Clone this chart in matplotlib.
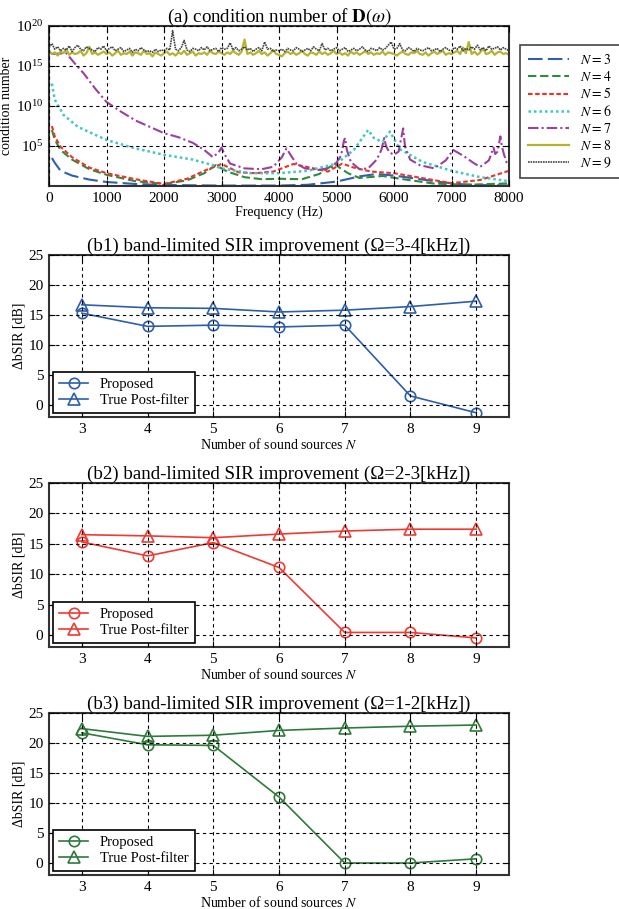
import numpy as np
import matplotlib
matplotlib.use('Agg')
import matplotlib.pyplot as plt
from matplotlib.ticker import LogFormatterMathtext, FixedLocator

plt.rcParams['font.family'] = ['Liberation Serif', 'DejaVu Serif']
plt.rcParams['mathtext.fontset'] = 'stix'

# ---------- (a) condition number, log10 values ----------
f3 = [50, 100, 200, 400, 700, 1000, 1500, 2000, 3000, 4000, 4500, 5000, 5400, 5700, 6000, 6400, 6800, 7200, 7600, 8000]
c3 = [3.5, 2.9, 1.9, 1.3, 0.8, 0.5, 0.25, 0.12, 0.05, 0.05, 0.15, 0.55, 1.2, 1.5, 1.3, 0.9, 0.5, 0.2, 0.1, 0.05]

f4 = [50, 100, 200, 400, 700, 1000, 1500, 2000, 2400, 2700, 2900, 3100, 3400, 3700, 4000, 4400, 4700, 4970, 5050,
      5200, 5400, 5800, 6200, 6700, 7300, 8000]
c4 = [7.0, 5.8, 4.5, 3.3, 2.1, 1.4, 0.6, 0.25, 0.7, 1.6, 2.6, 1.8, 1.1, 0.85, 0.9, 0.85, 1.5, 2.8, 2.3,
      1.6, 1.0, 1.25, 0.8, 0.3, 0.15, 0.33]

f5 = [50, 100, 200, 400, 700, 1000, 1500, 2000, 2400, 2700, 3000, 3300, 3600, 3900, 4250, 4600, 4850, 5100, 5300,
      5600, 6000, 6400, 7000, 7500, 8000]
c5 = [7.5, 6.2, 4.9, 3.6, 2.3, 1.6, 0.85, 0.25, 0.9, 1.9, 2.75, 1.7, 1.6, 1.8, 2.75, 2.2, 1.8, 2.8, 2.3,
      1.8, 1.6, 1.1, 0.35, 0.75, 1.9]

f6 = [50, 100, 250, 500, 1000, 1500, 2000, 2500, 2850, 3000, 3500, 4000, 4500, 5000, 5300, 5450, 5550, 5650, 5800,
      5930, 6100, 6500, 7000, 7500, 8000]
c6 = [12.8, 10.8, 8.9, 7.4, 5.75, 4.7, 3.9, 3.3, 2.6, 2.2, 1.6, 1.6, 1.9, 2.8, 4.5, 6.0, 7.0, 6.0, 5.5,
      6.8, 4.6, 3.0, 1.9, 1.1, 0.6]

f7 = [50, 300, 450, 600, 800, 1000, 1250, 1500, 1750, 2000, 2250, 2500, 2700, 2850, 2950, 3000, 3050, 3150, 3400,
      3700, 3900, 4050, 4130, 4200, 4300, 4450, 4700, 4950, 5080, 5130, 5150, 5180, 5250, 5400, 5550, 5700, 5780,
      5830, 5860, 5920, 6000, 6080, 6140, 6160, 6190, 6280, 6450, 6700, 6900, 7030, 7200, 7400, 7500, 7650, 7730,
      7760, 7800, 7850, 7875, 7910, 7960, 8000]
c7 = [16.5, 16.6, 15.3, 14.1, 12.2, 10.5, 9.3, 8.2, 7.4, 6.6, 6.1, 5.4, 4.5, 3.6, 4.2, 4.8, 4.0, 2.8, 2.2,
      2.1, 2.4, 3.6, 4.7, 3.9, 2.8, 2.2, 2.0, 2.4, 3.8, 5.7, 6.0, 4.5, 3.0, 2.1, 2.2, 3.3, 4.5,
      6.0, 5.0, 4.2, 3.9, 4.3, 6.5, 7.2, 5.0, 3.3, 2.6, 2.2, 3.2, 4.5, 3.8, 2.8, 2.4, 3.2, 4.8,
      4.0, 4.3, 6.2, 5.0, 4.0, 2.9, 2.5]

# N = 8 and N = 9, every 50 Hz from 0 to 8000
c8 = [16.9, 16.5, 16.7, 16.3, 16.8, 16.6, 17.1, 16.4, 16.7, 16.5, 16.6, 16.9, 16.3, 16.6, 17.4, 16.5, 16.7, 16.4, 16.6, 16.8, 16.5,
      16.7, 16.3, 16.6, 16.9, 16.4, 16.6, 16.5, 16.8, 16.3, 16.7, 16.6, 16.4, 16.9, 16.5, 16.6, 16.2, 16.7, 16.5, 16.3, 16.6,
      16.8, 16.4, 16.6, 16.3, 16.7, 16.5, 16.9, 16.4, 16.6, 16.8, 16.3, 16.6, 16.5, 16.7, 16.4, 16.9, 16.6, 16.5, 16.8, 16.6,
      16.4, 16.7, 16.5, 16.9, 16.6, 16.4, 16.8, 18.3, 16.5, 16.7, 16.4, 16.6, 16.9, 16.5, 16.7, 16.3, 16.6, 17.0, 16.5, 16.4,
      16.2, 16.6, 16.8, 16.5, 16.7, 16.4, 16.6, 16.9, 16.5, 16.3, 16.7, 16.6, 16.4, 16.8, 16.5, 16.7, 16.4, 16.6, 16.9, 16.5,
      16.7, 16.4, 16.6, 16.3, 16.8, 16.5, 16.7, 16.4, 16.6, 16.9, 16.5, 16.7, 16.4, 16.6, 16.5, 16.8, 16.4, 16.7, 16.6, 16.5,
      16.3, 16.6, 16.8, 16.5, 16.4, 16.7, 16.6, 16.9, 16.5, 16.4, 16.7, 16.3, 16.6, 16.8, 16.5, 16.7, 16.9, 16.4, 16.6, 16.5,
      16.7, 16.9, 16.5, 17.3, 16.6, 18.0, 16.5, 16.8, 16.4, 16.7, 17.2, 16.5, 16.6, 16.9, 16.4, 16.7, 16.8, 16.5, 16.6, 16.4]
c9 = [17.3, 17.8, 17.1, 17.4, 16.9, 17.2, 17.0, 17.5, 16.8, 17.3, 17.6, 17.1, 16.9, 17.4, 17.2, 17.0, 16.8, 17.3, 17.1, 17.5, 16.9,
      17.2, 17.4, 16.9, 17.1, 17.3, 16.8, 17.0, 17.2, 16.7, 17.1, 16.9, 17.3, 17.0, 16.8, 16.9, 16.7, 17.1, 16.8, 17.0, 16.9,
      17.2, 17.0, 19.4, 17.1, 16.9, 17.3, 18.2, 17.0, 16.8, 17.2, 17.1, 16.9, 17.3, 17.0, 17.4, 16.9, 17.1, 17.2, 16.8, 17.3,
      17.1, 17.2, 17.9, 17.0, 17.3, 16.9, 17.1, 17.4, 17.0, 17.2, 16.8, 17.1, 17.3, 16.9, 18.0, 17.1, 17.2, 16.8, 17.0, 16.9,
      17.1, 16.8, 17.2, 17.0, 16.9, 17.3, 17.1, 16.8, 17.0, 17.2, 16.9, 17.4, 17.1, 16.9, 17.8, 17.0, 17.2, 16.9, 17.1, 17.3,
      16.9, 17.1, 17.3, 16.8, 17.0, 17.2, 16.9, 17.1, 17.4, 17.0, 16.8, 17.2, 17.1, 16.9, 17.3, 17.0, 17.2, 17.6, 18.0, 17.1,
      17.2, 17.8, 17.0, 16.9, 17.3, 17.1, 16.8, 17.2, 17.0, 16.9, 17.1, 17.3, 16.9, 17.0, 17.2, 16.8, 17.1, 17.3, 17.0, 16.9,
      17.3, 17.1, 17.5, 16.9, 17.2, 17.0, 17.4, 17.1, 17.6, 17.0, 17.3, 16.9, 17.5, 17.1, 17.2, 17.4, 17.0, 17.3, 17.1, 16.9]
f89 = np.arange(0, 8001, 50)

# ---------- (b) band-limited SIR improvement ----------
n_src = [3, 4, 5, 6, 7, 8, 9]
b1_prop = [15.3, 13.1, 13.3, 13.0, 13.3, 1.5, -1.3]
b1_true = [16.7, 16.2, 16.1, 15.5, 15.8, 16.4, 17.3]
b2_prop = [15.3, 13.0, 15.2, 11.1, 0.4, 0.4, -0.5]
b2_true = [16.5, 16.3, 16.0, 16.6, 17.1, 17.4, 17.4]
b3_prop = [21.7, 19.7, 19.6, 11.0, 0.0, 0.0, 0.7]
b3_true = [22.4, 21.1, 21.3, 22.1, 22.5, 22.8, 23.0]

fig = plt.figure(figsize=(6.19, 9.09), dpi=100)


def style_axes(ax):
    ax.grid(True, color='black', linestyle='--', linewidth=0.8, dashes=(3, 3))
    ax.set_axisbelow(False)
    ax.tick_params(direction='in', top=True, right=True, labelsize=11, length=4, pad=4)
    for s in ax.spines.values():
        s.set_linewidth(1.5)
        s.set_color('#333333')


ax = fig.add_axes([0.0792, 0.7954, 0.7431, 0.176])
curves = [
    (f3, c3, '#2f5fb0', (7, 2.5), 1.5, 3),
    (f4, c4, '#2e8b3a', (4, 1.8), 1.5, 4),
    (f5, c5, '#f0302a', (2.2, 1.2), 1.5, 5),
    (f6, c6, '#3cc8c0', (1, 1.2), 1.8, 6),
    (f7, c7, '#9b3fa0', (5, 1.5, 1, 1.5), 1.5, 7),
]
for f, c, col, dash, lw, n in curves:
    ax.plot(f, 10.0 ** np.array(c), color=col, lw=lw, dashes=dash, label=rf'$N = {n}$')
ax.plot(f89, 10.0 ** np.array(c8), color='#b5b330', lw=1.6, label=r'$N = 8$')
ax.plot(f89, 10.0 ** np.array(c9), color='#444444', lw=1.2, dashes=(1, 0.5), label=r'$N = 9$')
ax.set_yscale('log')
ax.set_xlim(0, 8000)
ax.set_ylim(1, 1e20)
ax.yaxis.set_major_locator(FixedLocator([1e5, 1e10, 1e15, 1e20]))
ax.yaxis.set_major_formatter(LogFormatterMathtext())
ax.yaxis.set_minor_locator(FixedLocator([]))
ax.set_xticks(range(0, 8001, 1000))
style_axes(ax)
ax.set_xlabel('Frequency (Hz)', fontsize=10, labelpad=1)
ax.set_ylabel('condition number', fontsize=10, labelpad=2)
ax.set_title(r'(a) condition number of $\mathbf{D}(\omega)$', fontsize=13.6, pad=3)
leg = fig.legend(loc='upper left', bbox_to_anchor=(0.840, 0.951), borderaxespad=0, fontsize=10,
                 handlelength=2.9, handletextpad=0.8, labelspacing=0.2, borderpad=0.6,
                 fancybox=False, framealpha=1)
leg.get_frame().set_edgecolor('#444444')
leg.get_frame().set_linewidth(1.2)

panels = [
    ([0.0792, 0.5413, 0.7431, 0.1782], b1_prop, b1_true, '#2e5ea8', '(b1) band-limited SIR improvement (Ω=3-4[kHz])'),
    ([0.0792, 0.2882, 0.7431, 0.1804], b2_prop, b2_true, '#ee3a33', '(b2) band-limited SIR improvement (Ω=2-3[kHz])'),
    ([0.0792, 0.0374, 0.7431, 0.1782], b3_prop, b3_true, '#2f7a3a', '(b3) band-limited SIR improvement (Ω=1-2[kHz])'),
]
for rect, prop, true, col, title in panels:
    ax = fig.add_axes(rect)
    ax.plot(n_src, prop, '-o', color=col, lw=1.2, ms=7.5, mfc='none', mew=1.2, label='Proposed')
    ax.plot(n_src, true, '-^', color=col, lw=1.2, ms=8, mfc='none', mew=1.2, label='True Post-filter')
    ax.set_xlim(2.5, 9.5)
    ax.set_ylim(-2, 25)
    ax.set_xticks(n_src)
    ax.set_yticks(range(0, 26, 5))
    style_axes(ax)
    ax.set_title(title, fontsize=13.6, pad=3)
    ax.set_ylabel('ΔbSIR [dB]', fontsize=10, labelpad=2)
    ax.set_xlabel(r'Number of sound sources $N$', fontsize=10, labelpad=1)
    lg = ax.legend(loc='lower left', fontsize=10.5, fancybox=False, framealpha=1, handlelength=2.0,
                   borderaxespad=0.3, labelspacing=0.2)
    lg.get_frame().set_edgecolor('black')
    lg.get_frame().set_linewidth(1.2)

fig.savefig('out.png', dpi=100)
